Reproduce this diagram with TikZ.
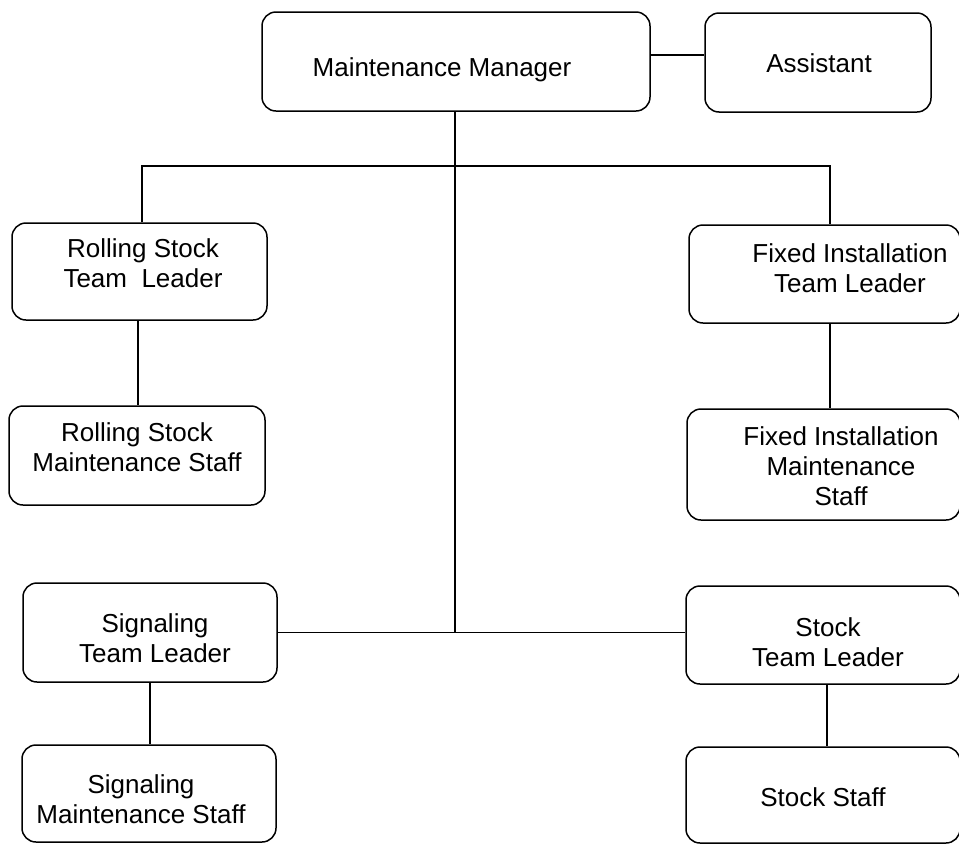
\documentclass[tikz,border=0pt]{standalone}
\usepackage{fontspec}
\setmainfont{Liberation Sans}
\begin{document}
\begin{tikzpicture}[x=1pt,y=-1pt,
  box/.style={draw=black, line width=1.5pt, rounded corners=14pt, fill=none, inner sep=0pt},
  txt/.style={font=\fontsize{26}{30}\selectfont, align=center, inner sep=0pt},
  link/.style={draw=black, line width=1.5pt}]
\useasboundingbox[fill=white] (0,0) rectangle (959,844);

% boxes
\node[box, minimum width=388pt, minimum height=99pt] (mgr)  at (456,61.5) {};
\node[box, minimum width=226pt, minimum height=99pt] (asst) at (818,62.5) {};
\node[box, minimum width=255pt, minimum height=97pt] (rtl)  at (139.5,271.5) {};
\node[box, minimum width=256pt, minimum height=99pt] (rst)  at (137,455.5) {};
\node[box, minimum width=271pt, minimum height=98pt] (ftl)  at (824.5,274) {};
\node[box, minimum width=273pt, minimum height=111pt] (fst) at (823.5,464.5) {};
\node[box, minimum width=254pt, minimum height=99pt] (stl)  at (150,632.5) {};
\node[box, minimum width=254pt, minimum height=97pt] (sst)  at (149,793.5) {};
\node[box, minimum width=274pt, minimum height=98pt] (ktl)  at (823,635) {};
\node[box, minimum width=274pt, minimum height=96pt] (kst)  at (823,795) {};

% labels
\node[txt] (mgr-t)  at (442,70)  {Maintenance Manager};
\node[txt] (asst-t) at (819,63)  {Assistant};
\node[txt] (rtl-t)  at (143,263) {Rolling Stock\\Team\ \ Leader};
\node[txt] (rst-t)  at (137,447) {Rolling Stock\\Maintenance Staff};
\node[txt] (ftl-t)  at (850,268) {Fixed Installation\\Team Leader};
\node[txt] (fst-t)  at (841,466) {Fixed Installation\\Maintenance\\Staff};
\node[txt] (stl-t)  at (155,638) {Signaling\\Team Leader};
\node[txt] (sst-t)  at (141,799) {Signaling\\Maintenance Staff};
\node[txt] (ktl-t)  at (828,642) {Stock\\Team Leader};
\node[txt] (kst-t)  at (823,797) {Stock Staff};

% routing points
\coordinate (trunk) at (455,633);
\coordinate (barL)  at (142,166);
\coordinate (barR)  at (830,166);
\coordinate (rsx)   at (138,0);
\coordinate (fsx)   at (830,0);
\coordinate (ssx)   at (150,0);
\coordinate (ksx)   at (827,0);

% connectors
\draw[link] ([yshift=6.5pt]mgr.east) -- ([yshift=6.5pt]mgr.east -| asst.west);
\draw[link] (mgr.south -| trunk) -- (trunk);
\draw[link] (rtl.north -| barL) -- (barL) -- (barR) -- (ftl.north -| barR);
\draw[link] (rtl.south -| rsx) -- (rst.north -| rsx);
\draw[link] (ftl.south -| fsx) -- (fst.north -| fsx);
\draw[link] (stl.east) -- (stl.east -| ktl.west);
\draw[link] (stl.south -| ssx) -- (sst.north -| ssx);
\draw[link] (ktl.south -| ksx) -- (kst.north -| ksx);
\end{tikzpicture}
\end{document}
